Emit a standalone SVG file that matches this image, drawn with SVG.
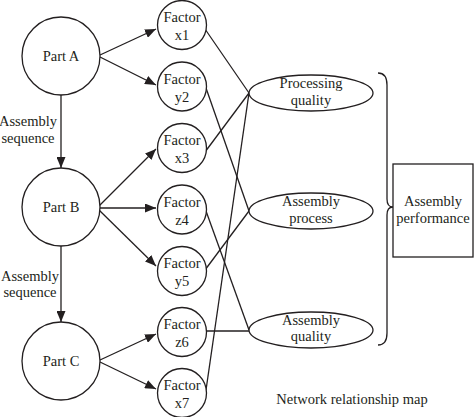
<svg xmlns="http://www.w3.org/2000/svg" width="474" height="417" viewBox="0 0 474 417">
<defs>
<style>
.n{fill:#fff;stroke:#231f20;stroke-width:1.3}
.t{font-family:"Liberation Serif","DejaVu Serif",serif;font-size:14.5px;fill:#231f20;text-anchor:middle}
.c{stroke:#231f20;stroke-width:1.3;fill:none}
.a{marker-end:url(#ah)}
</style>
<marker id="ah" markerUnits="userSpaceOnUse" markerWidth="11" markerHeight="9" refX="11" refY="4.5" orient="auto">
<path d="M0,0 L11,4.5 L0,9 z" fill="#231f20"/>
</marker>
</defs>
<rect width="474" height="417" fill="#fff"/>
<g id="connectors">
<line class="c a" x1="61" y1="95" x2="61" y2="168"/>
<line class="c a" x1="61" y1="246" x2="61" y2="322"/>
<line class="c a" x1="100" y1="55" x2="156" y2="29"/>
<line class="c a" x1="100" y1="57" x2="156" y2="85"/>
<line class="c a" x1="99" y1="206" x2="156" y2="149"/>
<line class="c a" x1="100" y1="208" x2="156" y2="208"/>
<line class="c a" x1="99" y1="210" x2="156" y2="266"/>
<line class="c a" x1="100" y1="360" x2="156" y2="334"/>
<line class="c a" x1="100" y1="362" x2="156" y2="389"/>
<line class="c" x1="205" y1="29" x2="249" y2="93"/>
<line class="c" x1="206" y1="88" x2="249" y2="211"/>
<line class="c" x1="205" y1="152" x2="249" y2="93"/>
<line class="c" x1="206" y1="211" x2="249" y2="330"/>
<line class="c" x1="205" y1="270" x2="249" y2="211"/>
<line class="c" x1="207" y1="331" x2="249" y2="331"/>
<line class="c" x1="206" y1="390" x2="249" y2="93"/>
<path class="c" d="M378,73 Q387,73 387,85 L387,199 Q387,207 393,207 Q387,207 387,215 L387,333 Q387,345 378,345"/>
<text class="t" x="28" y="126">Assembly</text>
<text class="t" x="28" y="143">sequence</text>
<text class="t" x="30" y="281">Assembly</text>
<text class="t" x="30" y="297">sequence</text>
</g>
<g id="partA"><circle class="n" cx="61" cy="56" r="39"/><text class="t" x="61" y="61">Part A</text></g>
<g id="partB"><circle class="n" cx="61" cy="207" r="39"/><text class="t" x="61" y="212">Part B</text></g>
<g id="partC"><circle class="n" cx="61" cy="361" r="39"/><text class="t" x="61" y="366">Part C</text></g>
<g id="x1"><circle class="n" cx="182" cy="25" r="24.5"/><text class="t" x="182" y="22">Factor</text><text class="t" x="182" y="40">x1</text></g>
<g id="y2"><circle class="n" cx="182" cy="86.5" r="24.5"/><text class="t" x="182" y="83.5">Factor</text><text class="t" x="182" y="101.5">y2</text></g>
<g id="x3"><circle class="n" cx="182" cy="148" r="24.5"/><text class="t" x="182" y="145">Factor</text><text class="t" x="182" y="163">x3</text></g>
<g id="z4"><circle class="n" cx="182" cy="209.5" r="24.5"/><text class="t" x="182" y="206.5">Factor</text><text class="t" x="182" y="224.5">z4</text></g>
<g id="y5"><circle class="n" cx="182" cy="271" r="24.5"/><text class="t" x="182" y="268">Factor</text><text class="t" x="182" y="286">y5</text></g>
<g id="z6"><circle class="n" cx="182" cy="332" r="24.5"/><text class="t" x="182" y="329">Factor</text><text class="t" x="182" y="347">z6</text></g>
<g id="x7"><circle class="n" cx="182" cy="393" r="24.5"/><text class="t" x="182" y="390">Factor</text><text class="t" x="182" y="408">x7</text></g>
<g id="processingQuality"><ellipse class="n" cx="311" cy="93" rx="62" ry="18"/><text class="t" x="311" y="88">Processing</text><text class="t" x="311" y="105">quality</text></g>
<g id="assemblyProcess"><ellipse class="n" cx="311" cy="211" rx="62" ry="18"/><text class="t" x="311" y="206">Assembly</text><text class="t" x="311" y="223">process</text></g>
<g id="assemblyQuality"><ellipse class="n" cx="311" cy="330" rx="62" ry="18"/><text class="t" x="311" y="325">Assembly</text><text class="t" x="311" y="341">quality</text></g>
<g id="assemblyPerformance"><rect class="n" x="393" y="164" width="80" height="93"/><text class="t" x="433" y="206">Assembly</text><text class="t" x="433" y="223">performance</text></g>
<text class="t" x="352" y="404">Network relationship map</text>
</svg>
